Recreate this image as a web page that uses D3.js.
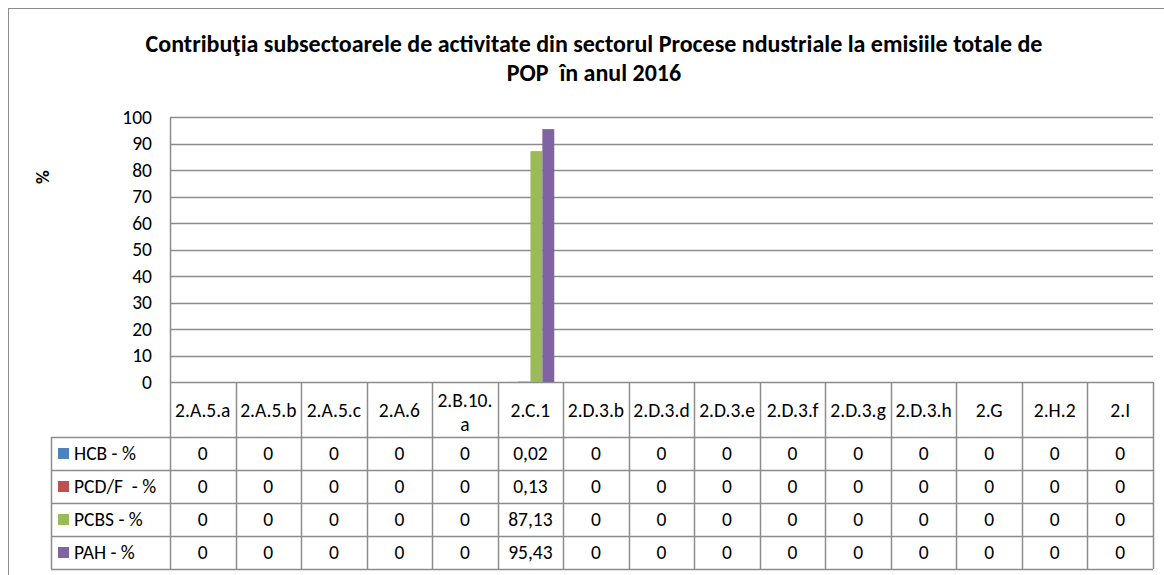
<!DOCTYPE html>
<html>
<head>
<meta charset="utf-8">
<script src="https://cdn.jsdelivr.net/npm/d3@7"></script>
<style>
  body { margin: 0; background: #fff; }
  svg text { font-family: Carlito, Lato, "Open Sans", sans-serif; fill: #000; white-space: pre; }
</style>
</head>
<body>
<div id="chart"></div>
<script>
// chart values
const categories = ["2.A.5.a", "2.A.5.b", "2.A.5.c", "2.A.6", "2.B.10.a", "2.C.1",
  "2.D.3.b", "2.D.3.d", "2.D.3.e", "2.D.3.f", "2.D.3.g", "2.D.3.h", "2.G", "2.H.2", "2.I"];
const seriesNames = ["HCB - %", "PCD/F  - %", "PCBS - %", "PAH - %"];
const hcbValues  = [0, 0, 0, 0, 0, 0.02, 0, 0, 0, 0, 0, 0, 0, 0, 0];
const pcdfValues = [0, 0, 0, 0, 0, 0.13, 0, 0, 0, 0, 0, 0, 0, 0, 0];
const pcbsValues = [0, 0, 0, 0, 0, 87.13, 0, 0, 0, 0, 0, 0, 0, 0, 0];
const pahValues  = [0, 0, 0, 0, 0, 95.43, 0, 0, 0, 0, 0, 0, 0, 0, 0];
const yTicks = [0, 10, 20, 30, 40, 50, 60, 70, 80, 90, 100];
const colors = ["#4F81BD", "#C0504D", "#9BBB59", "#8064A2"];

const series = [hcbValues, pcdfValues, pcbsValues, pahValues];

var width = 1164, height = 575;
var plotLeft = 170, plotRight = 1153, plotTop = 117, zeroY = 382;
var headerH = 55, rowH = 33, legendLeft = 51;
var gridColor = "#8c8c8c";
var tableFont = 19.5;

var svg = d3.select("#chart").append("svg")
  .attr("width", width).attr("height", height);

// outer frame (runs off the picture on the right and bottom)
svg.append("rect")
  .attr("x", 8.5).attr("y", 8.5)
  .attr("width", 1200).attr("height", 600)
  .attr("fill", "none").attr("stroke", gridColor);

// title
var title = svg.append("text")
  .attr("text-anchor", "middle")
  .attr("font-weight", "bold")
  .attr("font-size", 24);
title.append("tspan").attr("x", 594).attr("y", 52)
  .text("Contribuţia subsectoarele de activitate din sectorul Procese ndustriale la emisiile totale de");
title.append("tspan").attr("x", 594).attr("y", 81)
  .text("POP  în anul 2016");

var x = d3.scaleBand().domain(categories).range([plotLeft, plotRight]);
var x1 = d3.scaleBand().domain(seriesNames)
  .range([0, x.bandwidth()]).paddingInner(0).paddingOuter(0.75);
var y = d3.scaleLinear().domain([0, 100]).range([zeroY, plotTop]);

// gridlines
svg.append("g").selectAll("line")
  .data(yTicks)
  .enter().append("line")
  .attr("x1", plotLeft).attr("x2", plotRight)
  .attr("y1", d => Math.round(y(d)) + 0.5)
  .attr("y2", d => Math.round(y(d)) + 0.5)
  .attr("stroke", gridColor).attr("stroke-width", 1.5);

// vertical axis line
svg.append("line")
  .attr("x1", plotLeft + 0.5).attr("x2", plotLeft + 0.5)
  .attr("y1", plotTop).attr("y2", zeroY)
  .attr("stroke", gridColor).attr("stroke-width", 1.5);

// y tick labels
svg.append("g").selectAll("text")
  .data(yTicks)
  .enter().append("text")
  .attr("x", 152)
  .attr("y", d => y(d) + 6.5)
  .attr("text-anchor", "end")
  .attr("font-size", 19.5)
  .text(d => d);

// axis title
svg.append("text")
  .attr("transform", "translate(49,177) rotate(-90)")
  .attr("text-anchor", "middle")
  .attr("font-weight", "bold")
  .attr("font-size", 19)
  .text("%");

// bars
var groups = svg.append("g").selectAll("g")
  .data(series)
  .enter().append("g")
  .attr("fill", (d, i) => colors[i]);

groups.each(function(vals, si) {
  d3.select(this).selectAll("rect")
    .data(vals)
    .enter().append("rect")
    .attr("x", (d, i) => x(categories[i]) + x1(seriesNames[si]))
    .attr("width", x1.bandwidth())
    .attr("y", d => y(d))
    .attr("height", d => zeroY - y(d));
});

// data table
var table = svg.append("g");
var tableBottom = zeroY + headerH + rowH * seriesNames.length;

var hLines = [zeroY + headerH];
seriesNames.forEach((s, i) => hLines.push(zeroY + headerH + rowH * (i + 1)));
table.selectAll(".hl")
  .data(hLines)
  .enter().append("line")
  .attr("x1", legendLeft).attr("x2", plotRight)
  .attr("y1", d => d + 0.5).attr("y2", d => d + 0.5)
  .attr("stroke", gridColor).attr("stroke-width", 1.5);

var vLines = categories.map(c => x(c)).concat([plotRight]);
table.selectAll(".vl")
  .data(vLines)
  .enter().append("line")
  .attr("x1", d => Math.round(d) + 0.5).attr("x2", d => Math.round(d) + 0.5)
  .attr("y1", zeroY).attr("y2", tableBottom)
  .attr("stroke", gridColor).attr("stroke-width", 1.5);

table.append("line")
  .attr("x1", legendLeft + 0.5).attr("x2", legendLeft + 0.5)
  .attr("y1", zeroY + headerH).attr("y2", tableBottom)
  .attr("stroke", gridColor).attr("stroke-width", 1.5);

// category headers
table.selectAll(".cat")
  .data(categories)
  .enter().append("text")
  .attr("text-anchor", "middle")
  .attr("font-size", tableFont)
  .each(function(c) {
    var cx = x(c) + x.bandwidth() / 2;
    var t = d3.select(this);
    if (c === "2.B.10.a") {
      t.append("tspan").attr("x", cx).attr("y", zeroY + 25).text("2.B.10.");
      t.append("tspan").attr("x", cx).attr("y", zeroY + 49).text("a");
    } else {
      t.append("tspan").attr("x", cx).attr("y", zeroY + 35).text(c);
    }
  });

// legend column and values
seriesNames.forEach(function(name, si) {
  var rowY = zeroY + headerH + rowH * si;
  table.append("rect")
    .attr("x", 58).attr("y", rowY + 11)
    .attr("width", 11).attr("height", 11)
    .attr("fill", colors[si]);
  table.append("text")
    .attr("x", 74).attr("y", rowY + 23)
    .attr("font-size", tableFont)
    .text(name);
  table.append("g").selectAll("text")
    .data(series[si])
    .enter().append("text")
    .attr("x", (d, i) => x(categories[i]) + x.bandwidth() / 2)
    .attr("y", rowY + 23)
    .attr("text-anchor", "middle")
    .attr("font-size", tableFont)
    .text(d => d === 0 ? "0" : d.toFixed(2).replace(".", ","));
});
</script>
</body>
</html>
